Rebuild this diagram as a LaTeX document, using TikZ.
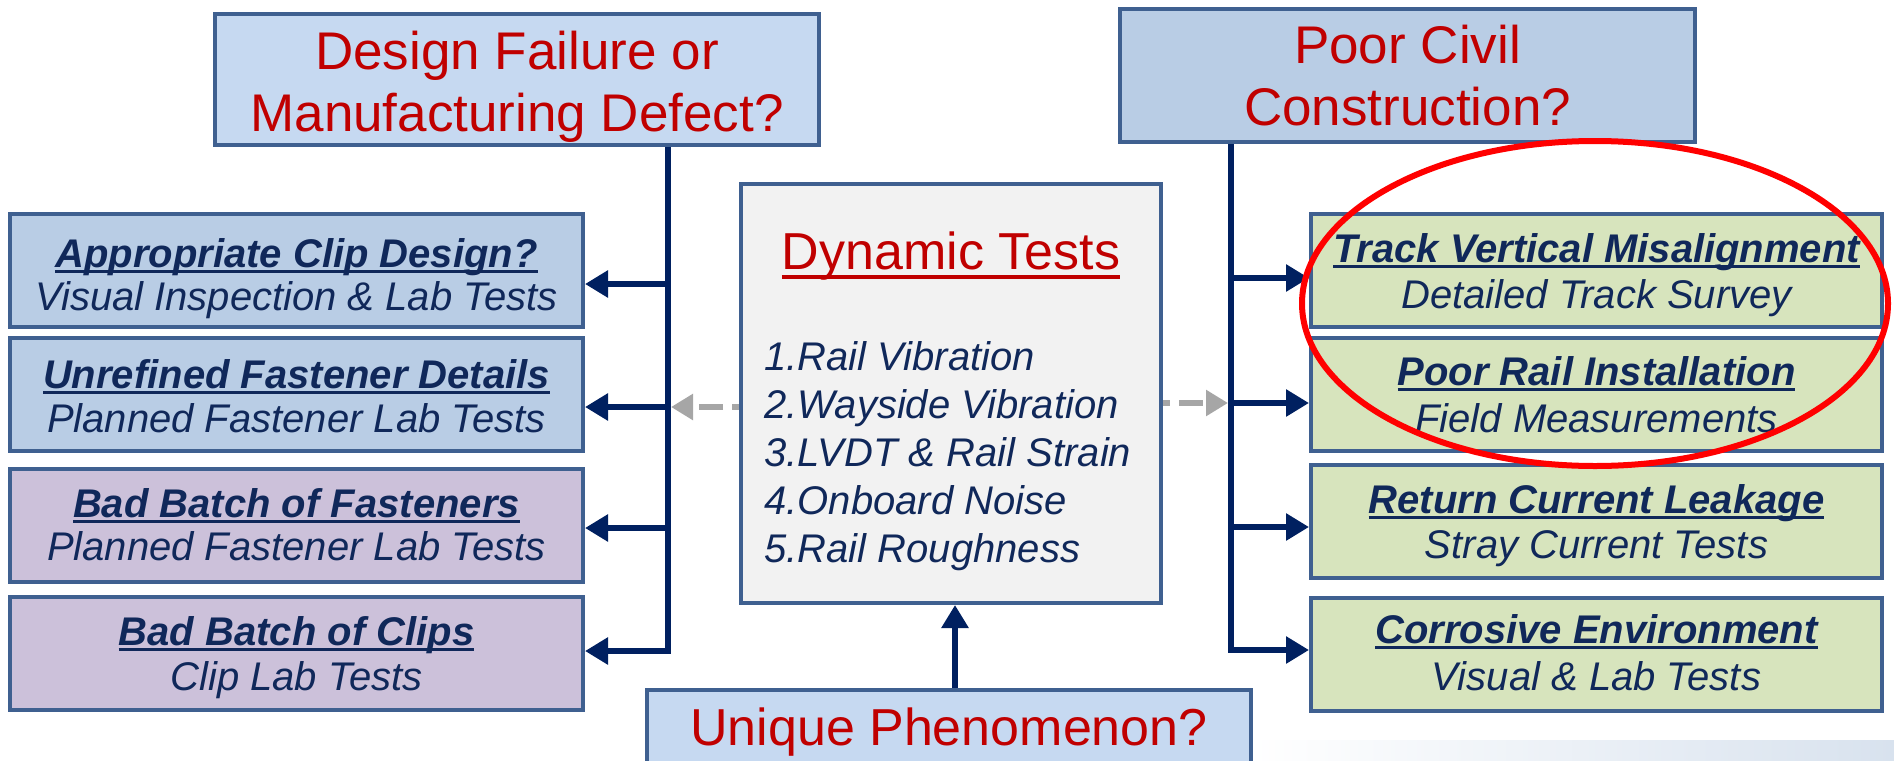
\documentclass[tikz,border=0pt]{standalone}
\usepackage{fontspec}
\setmainfont{Liberation Sans}
\usetikzlibrary{arrows.meta}
\definecolor{bord}{HTML}{3F6090}
\definecolor{navy}{HTML}{002060}
\definecolor{txtnavy}{HTML}{10285A}
\definecolor{redt}{HTML}{C00000}
\definecolor{fillA}{HTML}{C6D9F1}
\definecolor{fillB}{HTML}{B9CDE5}
\definecolor{fillP}{HTML}{CCC1DA}
\definecolor{fillG}{HTML}{D7E4BD}
\definecolor{fillC}{HTML}{F2F2F2}
\definecolor{dgray}{HTML}{A6A6A6}
\definecolor{bandc}{HTML}{D8E2EE}
\newsavebox{\ulbox}
% #1 depth of rule bottom, #2 thickness, #3 text
\newcommand{\myul}[3]{\sbox{\ulbox}{#3}\rlap{\rule[-#1]{\wd\ulbox}{#2}}\usebox{\ulbox}}
\begin{document}
\begin{tikzpicture}[x=0.5pt,y=-0.5pt,
  box/.style={draw=bord, line width=2pt, inner sep=0pt},
  bigred/.style={anchor=base, inner sep=0pt, text=redt, font=\fontsize{26.5}{30}\selectfont},
  subbox/.style={box, minimum height=56.5pt},
  lbox/.style={subbox, minimum width=286.5pt},
  rbox/.style={subbox, minimum width=285.5pt},
  ttlt/.style={anchor=base, inner sep=0pt, text=txtnavy, font=\fontsize{20}{22}\selectfont\bfseries\itshape},
  subt/.style={anchor=base, inner sep=0pt, text=txtnavy, font=\fontsize{20}{22}\selectfont\itshape},
  conn/.style={draw=navy, line width=3pt, -{Triangle[length=11.5pt,width=13pt]}},
  dsh/.style={draw=dgray, line width=3pt, dash pattern=on 12pt off 4.5pt, dash phase=8.5pt,
     -{Triangle[length=11pt,width=12.5pt]}}]
\useasboundingbox (0,0) rectangle (1894,760);
\shade[left color=white, right color=bandc] (1250,740) rectangle (1894,760);

% top boxes
\node[box, fill=fillA, minimum width=302pt, minimum height=65.5pt] (A) at (517,79.5) {};
\node[bigred] (A1) at (517,69) {Design Failure or};
\node[bigred] (A2) at (517,131) {Manufacturing Defect?};
\node[box, fill=fillB, minimum width=287.5pt, minimum height=66.5pt] (B) at (1407.5,75.5) {};
\node[bigred] (B1) at (1407.5,63) {Poor Civil};
\node[bigred] (B2) at (1407.5,125) {Construction?};

% centre box
\node[box, fill=fillC, minimum width=210pt, minimum height=209.5pt] (C) at (951,393.5) {};
\node[anchor=base, inner sep=0pt, text=redt, font=\fontsize{26}{30}\selectfont] (Ct) at (951,269)
  {\myul{4.8pt}{1.6pt}{Dynamic Tests}};
\node[anchor=west, inner sep=0pt, align=left, text=txtnavy, font=\fontsize{20}{24}\selectfont\itshape] (Cl) at (764,456)
  {1.Rail Vibration\\2.Wayside Vibration\\3.LVDT \& Rail Strain\\4.Onboard Noise\\5.Rail Roughness};

% bottom box
\node[box, fill=fillA, minimum width=302pt, minimum height=50pt] (U) at (949,740) {};
\node[anchor=base, inner sep=0pt, text=redt, font=\fontsize{26}{30}\selectfont] (Ut) at (949,745) {Unique Phenomenon?};

% left boxes
\node[lbox, fill=fillB] (L1) at (296.5,270.5) {};
\node[lbox, fill=fillB] (L2) at (296.5,394) {};
\node[lbox, fill=fillP] (L3) at (296.5,525) {};
\node[lbox, fill=fillP] (L4) at (296.5,653) {};
\node[ttlt] (L1a) at (296.5,267) {\myul{3.2pt}{1.5pt}{Appropriate Clip Design?}};
\node[subt] (L1b) at (296.5,310) {Visual Inspection \& Lab Tests};
\node[ttlt] (L2a) at (296.5,388) {\myul{3.2pt}{1.5pt}{Unrefined Fastener Details}};
\node[subt] (L2b) at (296.5,432) {Planned Fastener Lab Tests};
\node[ttlt] (L3a) at (296.5,517) {\myul{3.2pt}{1.5pt}{Bad Batch of Fasteners}};
\node[subt] (L3b) at (296.5,560) {Planned Fastener Lab Tests};
\node[ttlt] (L4a) at (296.5,645) {\myul{3.2pt}{1.5pt}{Bad Batch of Clips}};
\node[subt] (L4b) at (296.5,690) {Clip Lab Tests};

% right boxes
\node[rbox, fill=fillG] (R1) at (1596.5,270.5) {};
\node[rbox, fill=fillG] (R2) at (1596.5,394) {};
\node[rbox, fill=fillG] (R3) at (1596.5,521.5) {};
\node[rbox, fill=fillG] (R4) at (1596.5,654) {};
\node[ttlt] (R1a) at (1596.5,262) {\myul{3.2pt}{1.5pt}{Track Vertical Misalignment}};
\node[subt] (R1b) at (1596.5,308) {Detailed Track Survey};
\node[ttlt] (R2a) at (1596.5,385) {\myul{3.2pt}{1.5pt}{Poor Rail Installation}};
\node[subt] (R2b) at (1596.5,432) {Field Measurements};
\node[ttlt] (R3a) at (1596.5,513) {\myul{3.2pt}{1.5pt}{Return Current Leakage}};
\node[subt] (R3b) at (1596.5,558) {Stray Current Tests};
\node[ttlt] (R4a) at (1596.5,643) {\myul{3.2pt}{1.5pt}{Corrosive Environment}};
\node[subt] (R4b) at (1596.5,690) {Visual \& Lab Tests};

% trunk coordinates
\coordinate (lt1) at (668,284);
\coordinate (lt2) at (668,407);
\coordinate (lt3) at (668,528);
\coordinate (lt4) at (668,651);
\coordinate (rt1) at (1231,278);
\coordinate (rt2) at (1231,403);
\coordinate (rt3) at (1231,527);
\coordinate (rt4) at (1231,650);
\coordinate (ua) at (955,0);

% dashed grey arrows
\draw[dsh, shorten >=1.5pt] (C.west |- lt2) -- (lt2);
\draw[dsh, shorten >=1.5pt] (C.east |- rt2) -- (rt2);

% left tree
\draw[conn] (A.south -| lt4) -- (lt4) -- (lt4 -| L4.east);
\draw[conn] (lt1) -- (lt1 -| L1.east);
\draw[conn] (lt2) -- (lt2 -| L2.east);
\draw[conn] (lt3) -- (lt3 -| L3.east);

% right tree
\draw[conn] (B.south -| rt4) -- (rt4) -- (rt4 -| R4.west);
\draw[conn] (rt1) -- (rt1 -| R1.west);
\draw[conn] (rt2) -- (rt2 -| R2.west);
\draw[conn] (rt3) -- (rt3 -| R3.west);

% up arrow
\draw[conn] (U.north -| ua) -- (C.south -| ua);

% red ellipse
\draw[red, line width=3pt] (1595,303.5) ellipse [x radius=146.5pt, y radius=81.25pt];
\end{tikzpicture}
\end{document}
